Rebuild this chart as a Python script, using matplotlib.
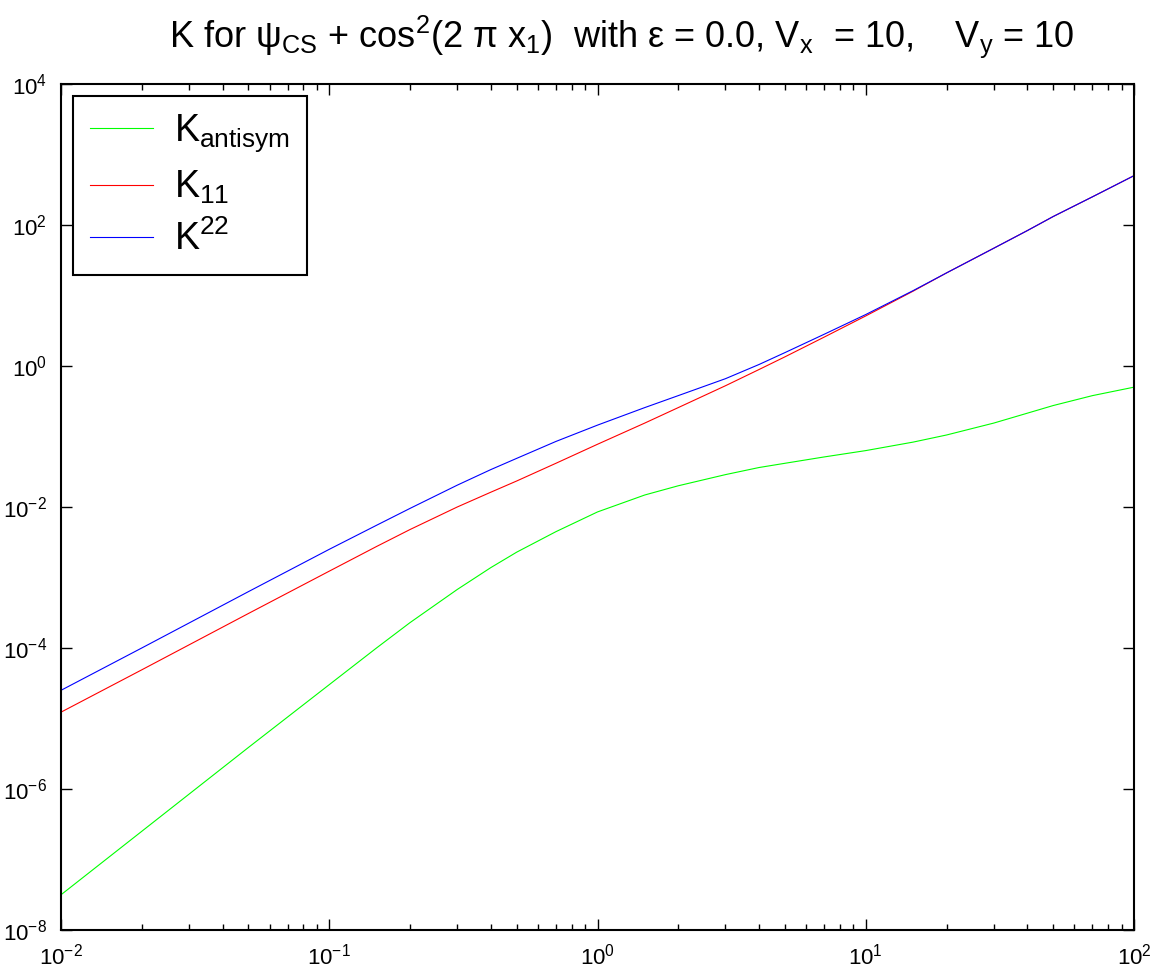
import matplotlib
matplotlib.use("Agg")
import matplotlib.pyplot as plt
from matplotlib.ticker import NullLocator

plt.rcParams['font.family'] = ['Liberation Sans', 'DejaVu Sans']
plt.rcParams['mathtext.fontset'] = 'custom'
plt.rcParams['mathtext.rm'] = 'Liberation Sans'
plt.rcParams['mathtext.it'] = 'Liberation Sans'
plt.rcParams['mathtext.default'] = 'regular'

# x axis values
pe = [0.01, 0.02, 0.05, 0.1, 0.15, 0.2, 0.3, 0.4, 0.5, 0.7, 1, 1.5, 2, 3, 4,
      5, 7, 10, 15, 20, 30, 40, 50, 70, 100]

# curves
k_antisym = [3.16e-8, 2.51e-7, 3.89e-6, 3.02e-5, 1.00e-4, 2.29e-4, 6.76e-4,
             1.38e-3, 2.29e-3, 4.47e-3, 8.51e-3, 0.0148, 0.0200, 0.0288,
             0.0363, 0.0417, 0.0513, 0.0631, 0.0832, 0.105, 0.155, 0.214,
             0.275, 0.380, 0.501]
k_11 = [1.23e-5, 4.90e-5, 3.09e-4, 1.23e-3, 2.75e-3, 4.79e-3, 0.0100, 0.0162,
        0.0234, 0.0417, 0.0776, 0.155, 0.257, 0.525, 0.891, 1.35, 2.57, 5.13,
        11.5, 20.9, 46.8, 83.2, 132, 251, 501]
k_22 = [2.51e-5, 1.00e-4, 6.31e-4, 2.51e-3, 5.50e-3, 9.55e-3, 0.0204, 0.0339,
        0.0490, 0.0851, 0.145, 0.257, 0.380, 0.661, 1.05, 1.55, 2.82, 5.37,
        11.7, 20.9, 46.8, 83.2, 132, 251, 501]

ytick_vals = [1e-8, 1e-6, 1e-4, 1e-2, 1e0, 1e2, 1e4]

fig = plt.figure(figsize=(11.6, 9.75), dpi=100)
ax = fig.add_axes([61/1160, 45/975, 1073/1160, 846/975])

ax.loglog(pe, k_antisym, color=(0, 1, 0), lw=0.8, label=r'K$_{antisym}$')
ax.loglog(pe, k_11, color=(1, 0, 0), lw=0.8, label=r'K$_{11}$')
ax.loglog(pe, k_22, color=(0, 0, 1), lw=0.8, label=r'K$^{22}$')

ax.set_xlim(1e-2, 1e2)
ax.set_ylim(1e-8, 1e4)
ax.set_yticks(ytick_vals)
ax.yaxis.set_minor_locator(NullLocator())

ax.tick_params(which='both', direction='in', top=True, right=True,
               labelsize=16, width=1)
ax.tick_params(which='major', length=8, pad=10)
ax.tick_params(which='minor', length=4)
for s in ax.spines.values():
    s.set_linewidth(1.5)

ax.set_title(r'K for ψ$_{CS}$ + cos$^2$(2 π x$_1$)  with ε = 0.0, V$_x$  = 10,    V$_y$ = 10',
             fontsize=26, pad=27, x=0.523)

leg = ax.legend(loc='upper left', bbox_to_anchor=(0.011, 0.986), fontsize=27,
                fancybox=False, framealpha=1, edgecolor='black',
                handlelength=1.7, handletextpad=0.55, labelspacing=0.38,
                borderpad=0.45, borderaxespad=0)
leg.get_frame().set_linewidth(1.5)

fig.savefig('out.png', dpi=100)
